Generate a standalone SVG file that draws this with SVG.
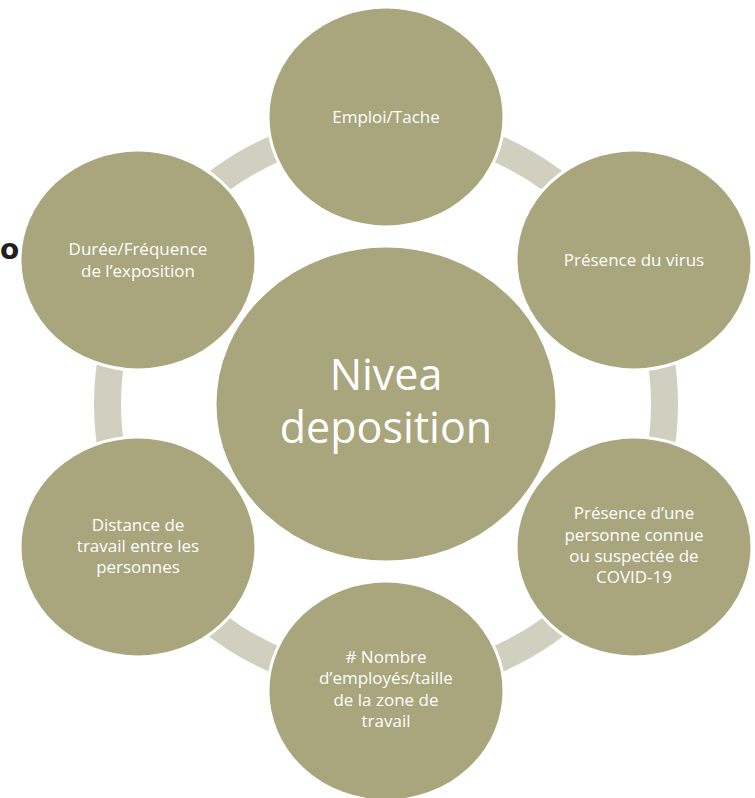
<svg xmlns="http://www.w3.org/2000/svg" width="755" height="798" viewBox="0 0 755 798">
<style>
.node{fill:#A9A57C;stroke:#FFFFFF;stroke-width:3}
.lbl{font-family:"Open Sans","Noto Sans","Liberation Sans",sans-serif;font-size:17px;fill:#FFFFFF;text-anchor:middle}
.big{font-family:"Open Sans","Noto Sans","Liberation Sans",sans-serif;font-size:43px;fill:#FFFFFF;text-anchor:middle}
.ring{fill:none;stroke:#D1CFC0;stroke-width:27}
</style>
<rect width="755" height="798" fill="#FFFFFF"/>
<text x="0" y="259" font-family="DejaVu Sans, sans-serif" font-weight="bold" font-size="28" fill="#231F20">o</text>
<g id="connectors">
<circle class="ring" cx="386" cy="404" r="278.5"/>
</g>
<g id="node-center">
<ellipse class="node" cx="386" cy="404" rx="171" ry="158"/>
<text class="big" x="386" y="390">Nivea</text>
<text class="big" x="386" y="443">deposition</text>
</g>
<g id="node-emploi">
<ellipse class="node" cx="386" cy="117" rx="118" ry="110"/>
<text class="lbl" x="386" y="123">Emploi/Tache</text>
</g>
<g id="node-virus">
<ellipse class="node" cx="634" cy="260" rx="118" ry="110"/>
<text class="lbl" x="634" y="266">Présence du virus</text>
</g>
<g id="node-covid">
<ellipse class="node" cx="634" cy="547" rx="118" ry="110"/>
<text class="lbl" x="634" y="519">Présence d’une</text>
<text class="lbl" x="634" y="541">personne connue</text>
<text class="lbl" x="634" y="562">ou suspectée de</text>
<text class="lbl" x="634" y="583">COVID-19</text>
</g>
<g id="node-nombre">
<ellipse class="node" cx="386" cy="691" rx="118" ry="110"/>
<text class="lbl" x="386" y="663"># Nombre</text>
<text class="lbl" x="386" y="684">d’employés/taille</text>
<text class="lbl" x="386" y="706">de la zone de</text>
<text class="lbl" x="386" y="727">travail</text>
</g>
<g id="node-distance">
<ellipse class="node" cx="138" cy="547" rx="118" ry="110"/>
<text class="lbl" x="138" y="531">Distance de</text>
<text class="lbl" x="138" y="552">travail entre les</text>
<text class="lbl" x="138" y="573">personnes</text>
</g>
<g id="node-duree">
<ellipse class="node" cx="138" cy="260" rx="118" ry="110"/>
<text class="lbl" x="138" y="255">Durée/Fréquence</text>
<text class="lbl" x="138" y="277">de l’exposition</text>
</g>
</svg>
